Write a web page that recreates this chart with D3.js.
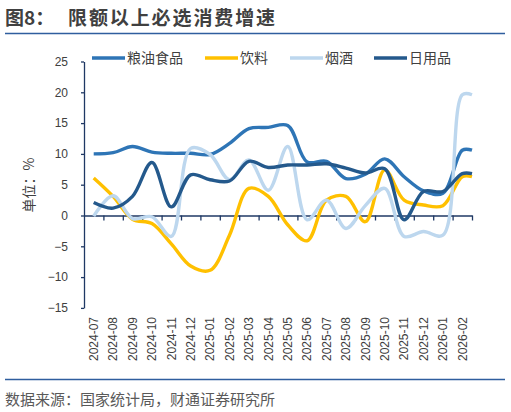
<!DOCTYPE html>
<html>
<head>
<meta charset="utf-8">
<script src="https://cdn.jsdelivr.net/npm/d3@7"></script>
<style>
  body { margin: 0; background: #fff; }
  svg { display: block; font-family: "Liberation Sans", "Noto Sans CJK SC", sans-serif; }
</style>
</head>
<body>
<script>
// months on the category axis
var months = ["2024-07", "2024-08", "2024-09", "2024-10", "2024-11", "2024-12",
              "2025-01", "2025-02", "2025-03", "2025-04", "2025-05", "2025-06",
              "2025-07", "2025-08", "2025-09", "2025-10", "2025-11", "2025-12",
              "2026-01", "2026-02"];

// growth rates, %
var grainOil  = [10.0, 10.2, 11.2, 10.3, 10.1, 10.1, 9.9, 11.7, 14.1, 14.3,
                 14.6, 8.7, 8.8, 6.0, 6.7, 9.2, 6.3, 4.0, 3.6, 10.6];
var beverage  = [6.1, 3.1, -0.6, -1.3, -4.6, -8.2, -8.9, -3.2, 4.4, 3.1,
                 -1.5, -4.1, 2.5, 3.1, -1.0, 7.4, 2.5, 1.7, 1.6, 6.3];
var tobacco   = [-0.1, 3.2, -0.5, -0.2, -3.4, 10.9, 9.9, 5.8, 9.0, 4.1,
                 11.2, -0.7, 2.5, -2.1, 1.6, 4.4, -3.4, -2.6, -3.2, 19.6];
var dailyUse  = [2.1, 1.2, 3.1, 8.6, 1.4, 6.6, 5.8, 5.6, 8.8, 7.8,
                 8.2, 8.2, 8.4, 7.7, 6.9, 7.6, -0.7, 3.9, 3.9, 6.8];

var seriesNames = ["粮油食品", "饮料", "烟酒", "日用品"];
var seriesData = [grainOil, beverage, tobacco, dailyUse];
var colors = ["#2E75B6", "#FFC000", "#BDD7EE", "#24598C"];

var yTicks = [-15, -10, -5, 0, 5, 10, 15, 20, 25];

var W = 511, H = 412;
var plot = {left: 84, right: 472, top: 61.5, bottom: 307.9};

var svg = d3.select("body").append("svg")
    .attr("width", W)
    .attr("height", H);

// title and rules
svg.append("text")
    .attr("x", 5).attr("y", 25)
    .attr("font-family", "Noto Sans CJK SC")
    .attr("font-size", 19).attr("font-weight", "bold")
    .attr("fill", "#404040")
    .text("图8：");
svg.append("text")
    .attr("x", 68).attr("y", 25)
    .attr("font-family", "Noto Sans CJK SC")
    .attr("font-size", 19).attr("font-weight", "bold")
    .attr("letter-spacing", 1.9)
    .attr("fill", "#404040")
    .text("限额以上必选消费增速");
svg.append("line")
    .attr("x1", 5).attr("x2", 505).attr("y1", 33.5).attr("y2", 33.5)
    .attr("stroke", "#2F5E9E").attr("stroke-width", 1.3);
svg.append("line")
    .attr("x1", 5).attr("x2", 505).attr("y1", 379.5).attr("y2", 379.5)
    .attr("stroke", "#2F5E9E").attr("stroke-width", 1.3);

svg.append("text")
    .attr("x", 5).attr("y", 405)
    .attr("font-family", "Noto Sans CJK SC")
    .attr("font-size", 15)
    .attr("fill", "#595959")
    .text("数据来源：国家统计局，财通证券研究所");

// scales
var x = d3.scaleBand().domain(months).range([plot.left, plot.right]).padding(0);
var xEdge = d3.scaleLinear().domain([0, months.length]).range([plot.left, plot.right]);
var y = d3.scaleLinear().domain([-15, 25]).range([plot.bottom, plot.top]);

var axisColor = "#1F3864";

// y axis
var gy = svg.append("g")
    .attr("transform", "translate(" + plot.left + ",0)")
    .call(d3.axisLeft(y).tickValues(yTicks).tickSize(3).tickPadding(13).tickSizeOuter(0));
gy.select(".domain").attr("stroke", axisColor).attr("stroke-width", 1.3);
gy.selectAll(".tick line").attr("stroke", axisColor).attr("stroke-width", 1.3);
gy.selectAll(".tick text")
    .attr("font-size", 12)
    .attr("fill", "#404040");

// x axis along zero
var gx = svg.append("g")
    .attr("transform", "translate(0," + y(0) + ")")
    .call(d3.axisBottom(xEdge).tickValues(d3.range(1, months.length + 1))
            .tickSize(5).tickSizeOuter(0).tickFormat(""));
gx.select(".domain").attr("stroke", axisColor).attr("stroke-width", 1.3);
gx.selectAll(".tick line").attr("stroke", axisColor).attr("stroke-width", 1.3);

// month labels, rotated
svg.append("g").selectAll("text")
    .data(months)
    .enter().append("text")
    .attr("transform", function(d) {
      return "translate(" + (x(d) + x.bandwidth() / 2) + ",317) rotate(-90)";
    })
    .attr("text-anchor", "end")
    .attr("dy", "0.35em")
    .attr("font-size", 12)
    .attr("fill", "#404040")
    .text(function(d) { return d; });

// y axis unit
svg.append("text")
    .attr("transform", "translate(34,185) rotate(-90)")
    .attr("text-anchor", "middle")
    .attr("font-family", "Noto Sans CJK SC")
    .attr("font-size", 14)
    .attr("fill", "#404040")
    .text("单位：%");

// lines: points at band centres, last value held to the end of the axis
var line = d3.line()
    .x(function(d) { return d.x; })
    .y(function(d) { return y(d.v); })
    .curve(d3.curveCatmullRom.alpha(0.5));

for (let i = 0; i < seriesData.length; i++) {
  var pts = seriesData[i].map(function(v, j) {
    return {x: x(months[j]) + x.bandwidth() / 2, v: v};
  });
  var last = seriesData[i][seriesData[i].length - 1];
  pts.push({x: x(months[months.length - 1]) + x.bandwidth(), v: last});
  svg.append("path")
      .datum(pts)
      .attr("fill", "none")
      .attr("stroke", colors[i])
      .attr("stroke-width", 3.4)
      .attr("stroke-linejoin", "round")
      .attr("d", line);
}

// legend
var legendX = [92, 205, 290, 374];
var lg = svg.append("g");
seriesNames.forEach(function(name, i) {
  lg.append("line")
      .attr("x1", legendX[i]).attr("x2", legendX[i] + 33)
      .attr("y1", 58).attr("y2", 58)
      .attr("stroke", colors[i]).attr("stroke-width", 3.4);
  lg.append("text")
      .attr("x", legendX[i] + 35).attr("y", 63)
      .attr("font-family", "Noto Sans CJK SC")
      .attr("font-size", 14)
      .attr("fill", "#404040")
      .text(name);
});
</script>
</body>
</html>
